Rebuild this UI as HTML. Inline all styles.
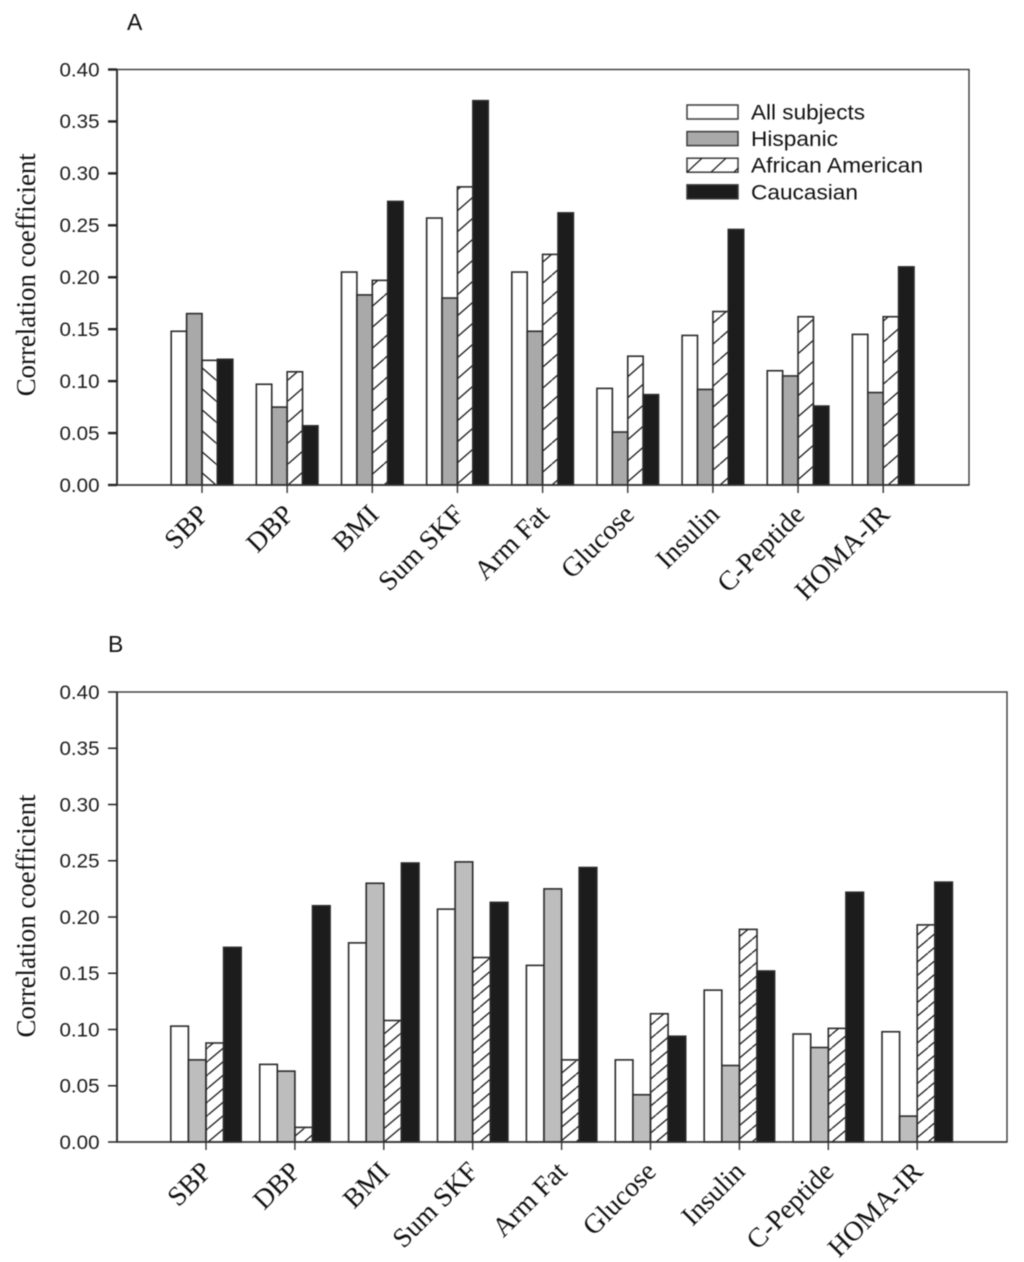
<!DOCTYPE html>
<html lang="en">
<head>
<meta charset="utf-8">
<title>Correlation coefficients by subject group</title>
<style>
html,body{margin:0;padding:0;background:#fff;width:1024px;height:1262px;overflow:hidden}
svg{display:block;filter:blur(0.4px)}
.num{font-family:"Liberation Sans",sans-serif;font-size:19px;fill:#1c1c1c}
.leg{font-family:"Liberation Sans",sans-serif;font-size:21px;fill:#111}
.panel{font-family:"Liberation Sans",sans-serif;font-size:23px;fill:#111}
.ser{font-family:"Liberation Serif",serif;fill:#111}
</style>
</head>
<body>
<svg id="chart" xmlns="http://www.w3.org/2000/svg" width="1024" height="1262" viewBox="0 0 1024 1262">
<defs>
<pattern id="hatchA" patternUnits="userSpaceOnUse" width="24" height="21" patternTransform="translate(0,485)">
<line x1="-24" y1="21" x2="0" y2="0" stroke="#1a1a1a" stroke-width="1.3"/>
<line x1="0" y1="21" x2="24" y2="0" stroke="#1a1a1a" stroke-width="1.3"/>
<line x1="24" y1="21" x2="48" y2="0" stroke="#1a1a1a" stroke-width="1.3"/>
</pattern>
<pattern id="hatchAback" patternUnits="userSpaceOnUse" width="24" height="21" patternTransform="translate(0,485)">
<line x1="-24" y1="0" x2="0" y2="21" stroke="#1a1a1a" stroke-width="1.3"/>
<line x1="0" y1="0" x2="24" y2="21" stroke="#1a1a1a" stroke-width="1.3"/>
<line x1="24" y1="0" x2="48" y2="21" stroke="#1a1a1a" stroke-width="1.3"/>
</pattern>
<pattern id="hatchB" patternUnits="userSpaceOnUse" width="16" height="13.5" patternTransform="translate(0,1142)">
<line x1="-16" y1="13.5" x2="0" y2="0" stroke="#1a1a1a" stroke-width="1.3"/>
<line x1="0" y1="13.5" x2="16" y2="0" stroke="#1a1a1a" stroke-width="1.3"/>
<line x1="16" y1="13.5" x2="32" y2="0" stroke="#1a1a1a" stroke-width="1.3"/>
</pattern>
</defs>
</svg>
<script>
const categories = ["SBP", "DBP", "BMI", "Sum SKF", "Arm Fat", "Glucose", "Insulin", "C-Peptide", "HOMA-IR"];
const yTickLabels = ["0.00", "0.05", "0.10", "0.15", "0.20", "0.25", "0.30", "0.35", "0.40"];
const seriesNames = ["All subjects", "Hispanic", "African American", "Caucasian"];

const panelAAll = [0.148, 0.097, 0.205, 0.257, 0.205, 0.093, 0.144, 0.110, 0.145];
const panelAHispanic = [0.165, 0.075, 0.183, 0.180, 0.148, 0.051, 0.092, 0.105, 0.089];
const panelAAfrican = [0.120, 0.109, 0.197, 0.287, 0.222, 0.124, 0.167, 0.162, 0.162];
const panelACaucasian = [0.121, 0.057, 0.273, 0.370, 0.262, 0.087, 0.246, 0.076, 0.210];

const panelBAll = [0.103, 0.069, 0.177, 0.207, 0.157, 0.073, 0.135, 0.096, 0.098];
const panelBHispanic = [0.073, 0.063, 0.230, 0.249, 0.225, 0.042, 0.068, 0.084, 0.023];
const panelBAfrican = [0.088, 0.013, 0.108, 0.164, 0.073, 0.114, 0.189, 0.101, 0.193];
const panelBCaucasian = [0.173, 0.210, 0.248, 0.213, 0.244, 0.094, 0.152, 0.222, 0.231];

const svg = document.getElementById('chart');
const NS = 'http://www.w3.org/2000/svg';

function make(tag, attrs, parent, text) {
  const el = document.createElementNS(NS, tag);
  for (const k in attrs) el.setAttribute(k, attrs[k]);
  if (text !== undefined) el.textContent = text;
  (parent || svg).appendChild(el);
  return el;
}

function drawPanel(p) {
  const yScale = v => p.bottom - (v / 0.4) * (p.bottom - p.top);
  const xCenter = i => p.firstCenter + i * p.step;

  const group = make('g', {});
  
  

  const title = make('text', {x: p.titleX, y: p.titleY, class: 'panel'}, group, p.key.toUpperCase());
  
  

  p.series.forEach((values, s) => {
    values.forEach((v, i) => {
      const x = xCenter(i) + (s - 2) * p.barW;
      const y = yScale(v);
      let fill = p.fills[s];
      if (s === 2 && p.key === 'a' && i === 0) fill = 'url(#hatchAback)';
      const bar = make('rect', {x: x, y: y, width: p.barW, height: p.bottom - y, fill: fill, stroke: '#2a2a2a', 'stroke-width': 1.6}, group);
      
      
    });
  });

  const frame = make('rect', {x: p.left, y: p.top, width: p.right - p.left, height: p.bottom - p.top, fill: 'none', stroke: '#3a3a3a', 'stroke-width': 1.4}, group);
  
  
  const yAxis = make('line', {x1: p.left, x2: p.left, y1: p.top, y2: p.bottom, stroke: '#333', 'stroke-width': 2}, group);
  
  
  const xAxis = make('line', {x1: p.left, x2: p.right, y1: p.bottom, y2: p.bottom, stroke: '#333', 'stroke-width': 1.6}, group);
  
  

  yTickLabels.forEach(label => {
    const v = parseFloat(label);
    const y = yScale(v);
    const tick = make('line', {x1: p.left - 9, x2: p.left, y1: y, y2: y, stroke: '#222', 'stroke-width': p.tickW}, group);
    
    
    const t = make('text', {x: 59.5, y: y + 6.8, class: 'num', textLength: 40, lengthAdjust: 'spacingAndGlyphs'}, group, label);
    
    
  });

  categories.forEach((c, i) => {
    const x = xCenter(i);
    const tick = make('line', {x1: x, x2: x, y1: p.bottom, y2: p.bottom + 8, stroke: '#333', 'stroke-width': 1.4}, group);
    
    
    const lx = x + p.labelDx;
    const ly = p.bottom + p.labelDy;
    const t = make('text', {x: lx, y: ly, class: 'ser', 'font-size': 27.5, 'text-anchor': 'end', transform: 'rotate(-45 ' + lx + ' ' + ly + ')'}, group, c);
    
    
  });

  const ty = (p.top + p.bottom) / 2 + p.titleShift;
  const yTitle = make('text', {x: 35, y: ty, class: 'ser', 'font-size': 27, 'text-anchor': 'middle', textLength: 243, lengthAdjust: 'spacingAndGlyphs', transform: 'rotate(-90 35 ' + ty + ')'}, group, 'Correlation coefficient');
  
  
}

drawPanel({
  key: 'a', top: 69.5, bottom: 485, left: 117, right: 969,
  firstCenter: 202, step: 85.15, barW: 15.4, tickW: 2.4, labelDx: 8, labelDy: 31,
  titleX: 127, titleY: 30, titleShift: -2.5,
  fills: ['#ffffff', '#a9a9a9', 'url(#hatchA)', '#1c1c1c'],
  series: [panelAAll, panelAHispanic, panelAAfrican, panelACaucasian]
});

drawPanel({
  key: 'b', top: 692, bottom: 1142, left: 117, right: 1007,
  firstCenter: 206, step: 88.9, barW: 17.6, tickW: 1.5, labelDx: 7, labelDy: 31,
  titleX: 108, titleY: 652, titleShift: -1,
  fills: ['#ffffff', '#bdbdbd', 'url(#hatchB)', '#1c1c1c'],
  series: [panelBAll, panelBHispanic, panelBAfrican, panelBCaucasian]
});

const legend = make('g', {});


const legendFills = ['#ffffff', '#a9a9a9', 'none', '#1c1c1c'];
const legendWidths = [114, 87, 172, 107];
seriesNames.forEach((name, i) => {
  const y = 105 + i * 26.6;
  const swatch = make('rect', {x: 687, y: y, width: 51, height: 14, fill: legendFills[i], stroke: '#3a3a3a', 'stroke-width': 1.5}, legend);
  
  
  if (i === 2) {
    ['687,119 702,105', '711,119 726,105', '734,119 738,115'].forEach(seg => {
      const pts = seg.split(' ').map(q => q.split(','));
      const hatch = make('line', {x1: pts[0][0], y1: pts[0][1], x2: pts[1][0], y2: pts[1][1] , stroke: '#1a1a1a', 'stroke-width': 1.3, transform: 'translate(0,' + (y - 105) + ')'}, legend);
      
      
    });
  }
  const label = make('text', {x: 751, y: y + 14.5, class: 'leg', textLength: legendWidths[i], lengthAdjust: 'spacingAndGlyphs'}, legend, name);
  
  
});
</script>
</body>
</html>
